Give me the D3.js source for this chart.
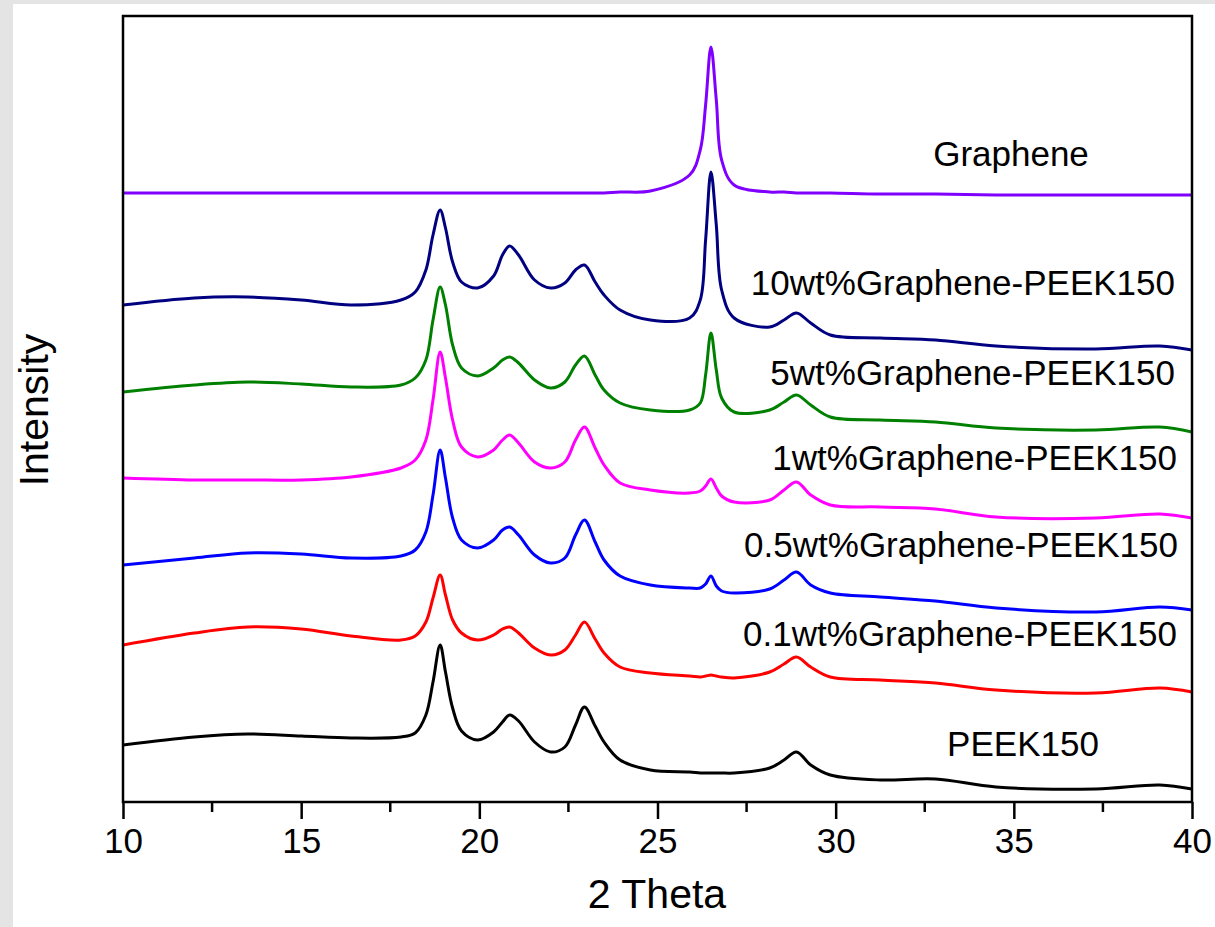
<!DOCTYPE html>
<html>
<head>
<meta charset="utf-8">
<script src="https://cdn.jsdelivr.net/npm/d3@7"></script>
<style>
  body { margin: 0; background: #e4e4e4; }
  svg { display: block; }
  text { font-family: Arial, 'Liberation Sans', sans-serif; fill: #000; }
</style>
</head>
<body>
<svg id="xrd" width="1215" height="927"></svg>
<script>
// 2 theta positions shared by every pattern (degrees)
const theta = [10, 12, 13.5, 15, 16.4, 17.8, 18.2, 18.5, 18.7, 18.9,
  19.05, 19.25, 19.5, 19.95, 20.4, 20.65, 20.85, 21.1, 21.55, 22.0,
  22.4, 22.7, 22.95, 23.25, 23.5, 23.95, 24.8, 25.9, 26.2, 26.35,
  26.5, 26.65, 26.8, 27.15, 28.15, 28.55, 28.9, 29.3, 29.85, 31.25,
  32.8, 34.5, 37.3, 39.1, 40]

// stacked intensities (a.u.)
const peek150 = [57, 65, 68, 66, 64, 65, 69, 87, 120, 157,
  130, 94, 71, 62, 70, 80, 87, 81, 60, 50,
  55, 77, 95, 76, 60, 42, 32, 30, 29, 29,
  29, 29, 29, 29, 34, 42, 50, 37, 27, 22,
  23, 15, 13, 17, 13]
const g01 = [157, 169, 175, 173, 166, 162, 166, 180, 204, 227,
  207, 182, 169, 162, 167, 173, 175, 169, 154, 147,
  152, 167, 180, 163, 149, 135, 129, 126, 125, 126,
  127, 126, 125, 124, 130, 138, 145, 135, 125, 122,
  119, 112, 109, 114, 110]
const g05 = [237, 244, 249, 248, 244, 246, 252, 270, 307, 352,
  324, 284, 262, 254, 262, 272, 275, 267, 247, 239,
  244, 267, 282, 260, 242, 226, 217, 214, 214, 218,
  226, 216, 211, 209, 213, 222, 230, 217, 209, 205,
  201, 194, 190, 195, 192]
const g1 = [324, 322, 322, 322, 325, 334, 342, 362, 402, 450,
  424, 382, 355, 345, 352, 362, 367, 359, 340, 334,
  340, 362, 375, 354, 337, 319, 312, 309, 311, 316,
  323, 314, 306, 300, 302, 312, 320, 307, 297, 295,
  293, 285, 284, 288, 284]
const g5 = [410, 417, 420, 418, 415, 417, 424, 442, 482, 515,
  497, 457, 434, 426, 434, 442, 445, 439, 422, 414,
  420, 437, 446, 427, 412, 399, 392, 392, 399, 427,
  469, 432, 404, 390, 392, 400, 407, 397, 385, 382,
  380, 374, 372, 375, 370]
const g10 = [497, 504, 505, 502, 497, 502, 510, 532, 567, 592,
  574, 540, 520, 514, 526, 547, 556, 547, 522, 514,
  519, 532, 537, 520, 507, 492, 482, 484, 502, 562,
  630, 577, 512, 484, 475, 482, 489, 479, 467, 464,
  462, 456, 453, 456, 452]
const graphene = [609, 609, 609, 609, 609, 609, 609, 609, 609, 609,
  609, 609, 609, 609, 609, 609, 609, 609, 609, 609,
  609, 609, 609, 609, 609, 610, 611, 627, 652, 697,
  755, 702, 642, 617, 610, 610, 609, 609, 609, 608,
  608, 607, 607, 607, 607]

const seriesNames = ['PEEK150', '0.1wt%Graphene-PEEK150', '0.5wt%Graphene-PEEK150',
  '1wt%Graphene-PEEK150', '5wt%Graphene-PEEK150', '10wt%Graphene-PEEK150', 'Graphene']
const seriesValues = [peek150, g01, g05, g1, g5, g10, graphene]
const seriesColors = ['#000000', '#ff0000', '#0000ff', '#ff00ff', '#008000', '#000080', '#8000ff']

const xTicks = [10, 15, 20, 25, 30, 35, 40]
const xMinorTicks = [12.5, 17.5, 22.5, 27.5, 32.5, 37.5]

// where each label sits: [x, baseline y, anchor]
const labelPlaces = [
  [1023, 756, 'middle'],
  [1177, 646, 'end'],
  [1178, 557, 'end'],
  [1177, 470, 'end'],
  [1175, 385, 'end'],
  [1175, 295, 'end'],
  [1011, 166, 'middle']
]

const margin = { top: 16, left: 123 }
const width = 1069
const height = 786

const svg = d3.select('#xrd')

/**
 * Draws the page background and the white figure panel.
 */
function drawBackground () {
  svg.append('rect').attr('width', 1215).attr('height', 927).attr('fill', '#e4e4e4')
  svg.append('rect').attr('x', 13).attr('y', 4).attr('width', 1202).attr('height', 923).attr('fill', '#fff')
}

/**
 * Draws the patterns, frame, axis and labels.
 */
function drawChart () {
  const g = svg.append('g').attr('transform', `translate(${margin.left},${margin.top})`)

  const x = d3.scaleLinear().domain([10, 40]).range([0, width])
  const y = d3.scaleLinear().domain([0, 786]).range([height, 0])

  g.append('clipPath').attr('id', 'plot-clip')
    .append('rect').attr('width', width).attr('height', height)

  const line = d3.line()
    .x(d => x(d[0]))
    .y(d => y(d[1]))
    .curve(d3.curveCatmullRom.alpha(0.5))

  g.append('g').attr('clip-path', 'url(#plot-clip)')
    .selectAll('path')
    .data(seriesValues)
    .join('path')
    .attr('fill', 'none')
    .attr('stroke', (d, i) => seriesColors[i])
    .attr('stroke-width', 3)
    .attr('stroke-linejoin', 'round')
    .attr('d', vals => line(theta.map((t, i) => [t, vals[i]])))

  // frame
  g.append('rect')
    .attr('width', width)
    .attr('height', height)
    .attr('fill', 'none')
    .attr('stroke', '#000')
    .attr('stroke-width', 2.5)

  const xAxis = g.append('g').attr('transform', `translate(0,${height})`)
    .call(d3.axisBottom(x).tickValues(xTicks).tickSize(17).tickPadding(9).tickFormat(d3.format('d')))
  xAxis.select('.domain').remove()
  xAxis.selectAll('.tick line').attr('stroke-width', 2.5)
  xAxis.selectAll('.tick text')
    .style('font-size', '35px')
    .style('font-family', "Arial, 'Liberation Sans', sans-serif")

  g.append('g').attr('transform', `translate(0,${height})`)
    .selectAll('line')
    .data(xMinorTicks)
    .join('line')
    .attr('x1', d => x(d))
    .attr('x2', d => x(d))
    .attr('y2', 10)
    .attr('stroke', '#000')
    .attr('stroke-width', 2.5)

  svg.append('text')
    .attr('x', 657)
    .attr('y', 908)
    .attr('text-anchor', 'middle')
    .style('font-size', '41px')
    .text('2 Theta')

  svg.append('text')
    .attr('transform', 'translate(48,410) rotate(-90)')
    .attr('text-anchor', 'middle')
    .style('font-size', '41px')
    .text('Intensity')

  svg.selectAll('.series-label')
    .data(seriesNames)
    .join('text')
    .attr('class', 'series-label')
    .attr('x', (d, i) => labelPlaces[i][0])
    .attr('y', (d, i) => labelPlaces[i][1])
    .attr('text-anchor', (d, i) => labelPlaces[i][2])
    .style('font-size', '35px')
    .text(d => d)
}

drawBackground()
drawChart()
</script>
</body>
</html>
